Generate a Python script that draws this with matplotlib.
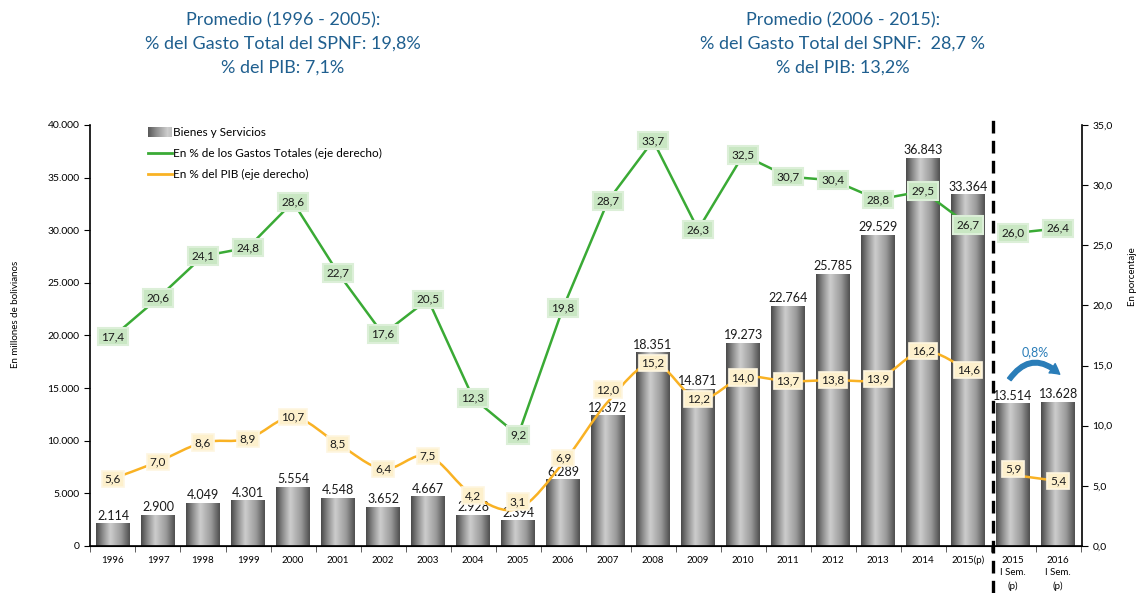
import numpy as np
import matplotlib
matplotlib.use("Agg")
import matplotlib.pyplot as plt
from matplotlib.colors import LinearSegmentedColormap
from matplotlib.legend_handler import HandlerBase
from matplotlib.patches import Rectangle, PathPatch, FancyArrowPatch
from matplotlib.path import Path
from matplotlib.lines import Line2D
from matplotlib.ticker import FuncFormatter, FixedLocator

plt.rcParams['font.family'] = ['Lato', 'DejaVu Sans']

# ------------------------------------------
# Data
# ------------------------------------------

categories = ['1996', '1997', '1998', '1999', '2000', '2001', '2002', '2003',
              '2004', '2005', '2006', '2007', '2008', '2009', '2010', '2011',
              '2012', '2013', '2014', '2015(p)',
              '2015\nI Sem.\n(p)', '2016\nI Sem.\n(p)']

bienes = [2114, 2900, 4049, 4301, 5554, 4548, 3652, 4667, 2928, 2394, 6289,
          12372, 18351, 14871, 19273, 22764, 25785, 29529, 36843, 33364,
          13514, 13628]

pct_gasto = [17.4, 20.6, 24.1, 24.8, 28.6, 22.7, 17.6, 20.5, 12.3, 9.2, 19.8,
             28.7, 33.7, 26.3, 32.5, 30.7, 30.4, 28.8, 29.5, 26.7,
             26.0, 26.4]

pct_pib = [5.6, 7.0, 8.6, 8.9, 10.7, 8.5, 6.4, 7.5, 4.2, 3.1, 6.9,
           12.0, 15.2, 12.2, 14.0, 13.7, 13.8, 13.9, 16.2, 14.6,
           5.9, 5.4]

n_annual = 20  # 1996..2015(p), then semesters
variacion = '0,8%'

title_left = ['Promedio (1996 - 2005):',
              '% del Gasto Total del SPNF: 19,8%',
              '% del PIB: 7,1%']
title_right = ['Promedio (2006 - 2015):',
               '% del Gasto Total del SPNF:  28,7 %',
               '% del PIB: 13,2%']

# ------------------------------------------
# Styles
# ------------------------------------------

GREEN = '#3aaa35'
YELLOW = '#f9b224'
BLUE = '#1f5f8f'
ARROW_BLUE = '#2a7db8'

bar_cmap = LinearSegmentedColormap.from_list(
    'bar', [(0, '#4a4a4a'), (0.2, '#8e8e8e'), (0.42, '#cdcdcd'),
            (0.75, '#9a9a9a'), (1, '#505050')])

x = np.arange(len(categories))
width = 0.75

# small upward nudge (in % units) for labels that would sit on a bar label
pib_label_nudge = {9: 0.6, 10: 0.4, 11: 1.0, 20: 0.5}


def fmt_thousands(v, pos=None):
    return f'{int(round(v)):,}'.replace(',', '.')


def fmt_dec(v, pos=None):
    return f'{v:.1f}'.replace('.', ',')


def smooth_path(xs, ys):
    pts = np.column_stack([xs, ys])
    verts = [pts[0]]
    codes = [Path.MOVETO]
    n = len(pts)
    for i in range(n - 1):
        p0 = pts[i - 1] if i > 0 else pts[i]
        p1 = pts[i]
        p2 = pts[i + 1]
        p3 = pts[i + 2] if i + 2 < n else pts[i + 1]
        c1 = p1 + (p2 - p0) / 6
        c2 = p2 - (p3 - p1) / 6
        verts += [c1, c2, p2]
        codes += [Path.CURVE4] * 3
    return Path(verts, codes)


class GradientHandler(HandlerBase):
    def create_artists(self, legend, orig, xd, yd, w, h, fontsize, trans):
        n = 24
        arts = []
        for k in range(n):
            arts.append(Rectangle((xd + w * k / n, yd - h * 0.1), w / n + 0.3, h * 1.2,
                                  facecolor=bar_cmap(0.05 + 0.45 * k / (n - 1)),
                                  edgecolor='none', transform=trans))
        return arts


# ------------------------------------------
# Figure
# ------------------------------------------

fig = plt.figure(figsize=(11.41, 5.93), dpi=100)
ax = fig.add_axes([0.0789, 0.0793, 0.8694, 0.7100])
ax2 = ax.twinx()

# gradient bars
grad = np.linspace(0, 1, 64).reshape(1, -1)
for xi, h in zip(x, bienes):
    ax.imshow(grad, extent=[xi - width / 2, xi + width / 2, 0, h],
              aspect='auto', cmap=bar_cmap, zorder=2, interpolation='bicubic')
    ax.text(xi, h + 200, fmt_thousands(h), ha='center', va='bottom',
            fontsize=9, color='#1a1a1a', zorder=3)

ax.set_xlim(-0.51, len(categories) - 0.47)
ax.set_ylim(0, 40000)
ax2.set_ylim(0, 35)

ax.set_yticks(np.arange(0, 40001, 5000))
ax.yaxis.set_major_formatter(FuncFormatter(fmt_thousands))
ax2.set_yticks(np.arange(0, 35.1, 5))
ax2.yaxis.set_major_formatter(FuncFormatter(fmt_dec))

ax.set_xticks(x)
ax.set_xticklabels(categories, fontsize=7, linespacing=1.5, va='top')
ax.xaxis.set_minor_locator(FixedLocator(np.arange(-0.5, len(categories), 1)))
ax.tick_params(axis='x', which='major', length=0, pad=7)
ax.tick_params(axis='x', which='minor', length=4, width=0.6, color='#444444')
ax.tick_params(axis='y', labelsize=7.5, length=4, width=0.8, direction='out')
ax2.tick_params(axis='y', labelsize=7.5, length=4, width=0.8, direction='out')

for a in (ax, ax2):
    a.spines['top'].set_visible(False)
ax.spines['right'].set_visible(False)
ax2.spines['left'].set_visible(False)
for s in ('left', 'bottom'):
    ax.spines[s].set_linewidth(1.2)
ax2.spines['right'].set_linewidth(1.2)

ax.set_ylabel('En millones de bolivianos', fontsize=7)
ax.yaxis.set_label_coords(-0.071, 0.55)
ax2.set_ylabel('En porcentaje', fontsize=7)
ax2.yaxis.set_label_coords(1.046, 0.64)

# lines (annual and semester segments separately)
groups = [slice(0, n_annual), slice(n_annual, len(categories))]
for g in groups:
    ax2.plot(x[g], pct_gasto[g], color=GREEN, lw=1.8, zorder=4,
             solid_capstyle='round')
    ax2.add_patch(PathPatch(smooth_path(x[g], pct_pib[g]), fill=False,
                            edgecolor=YELLOW, lw=1.8, zorder=4))

for xi, v in zip(x, pct_gasto):
    ax2.text(xi, v, fmt_dec(v), ha='center', va='center', fontsize=8.5,
             color='#1a1a1a', zorder=6,
             bbox=dict(boxstyle='square,pad=0.28', facecolor='#c9e7c3',
                       edgecolor='#dcefd8', lw=1.5))
for i, (xi, v) in enumerate(zip(x, pct_pib)):
    ax2.text(xi, v + pib_label_nudge.get(i, 0), fmt_dec(v), ha='center',
             va='center', fontsize=8.5, color='#1a1a1a', zorder=6,
             bbox=dict(boxstyle='square,pad=0.22', facecolor='#fdf0cc',
                       edgecolor='#fef6e0', lw=1.2))

# divider between annual and semester data
ax.axvline(n_annual - 0.45, ymin=-0.112, ymax=1.018, color='black', lw=2.4,
           ls=(0, (3.8, 2.2)), clip_on=False, zorder=5)

# variation arrow between semesters
i0, i1 = n_annual, n_annual + 1
arrow = FancyArrowPatch((x[i0] - 0.12, bienes[i0] + 2100),
                        (x[i1] + 0.08, bienes[i1] + 2500),
                        connectionstyle='arc3,rad=-0.6',
                        arrowstyle='simple,head_length=7,head_width=8,tail_width=3.2',
                        color=ARROW_BLUE, zorder=6)
ax.add_patch(arrow)
ax.text((x[i0] + x[i1]) / 2, bienes[i1] + 4800, variacion, ha='center',
        va='center', fontsize=9, color=ARROW_BLUE, zorder=6)

# legend
handles = [Rectangle((0, 0), 1, 1),
           Line2D([0], [0], color=GREEN, lw=2),
           Line2D([0], [0], color=YELLOW, lw=2)]
labels = ['Bienes y Servicios',
          'En % de los Gastos Totales (eje derecho)',
          'En % del PIB (eje derecho)']
ax2.legend(handles, labels, loc='upper left', bbox_to_anchor=(0.048, 1.02),
           frameon=False, fontsize=8.5, handlelength=2.0, handletextpad=0.1,
           labelspacing=0.85, handler_map={Rectangle: GradientHandler()})

# titles
for i, line in enumerate(title_left):
    fig.text(283 / 1141, 1 - (20 + 24 * i) / 593, line, ha='center',
             va='center', fontsize=13, color=BLUE)
for i, line in enumerate(title_right):
    fig.text(843 / 1141, 1 - (20 + 24 * i) / 593, line, ha='center',
             va='center', fontsize=13, color=BLUE)

fig.savefig('out.png', dpi=100)
